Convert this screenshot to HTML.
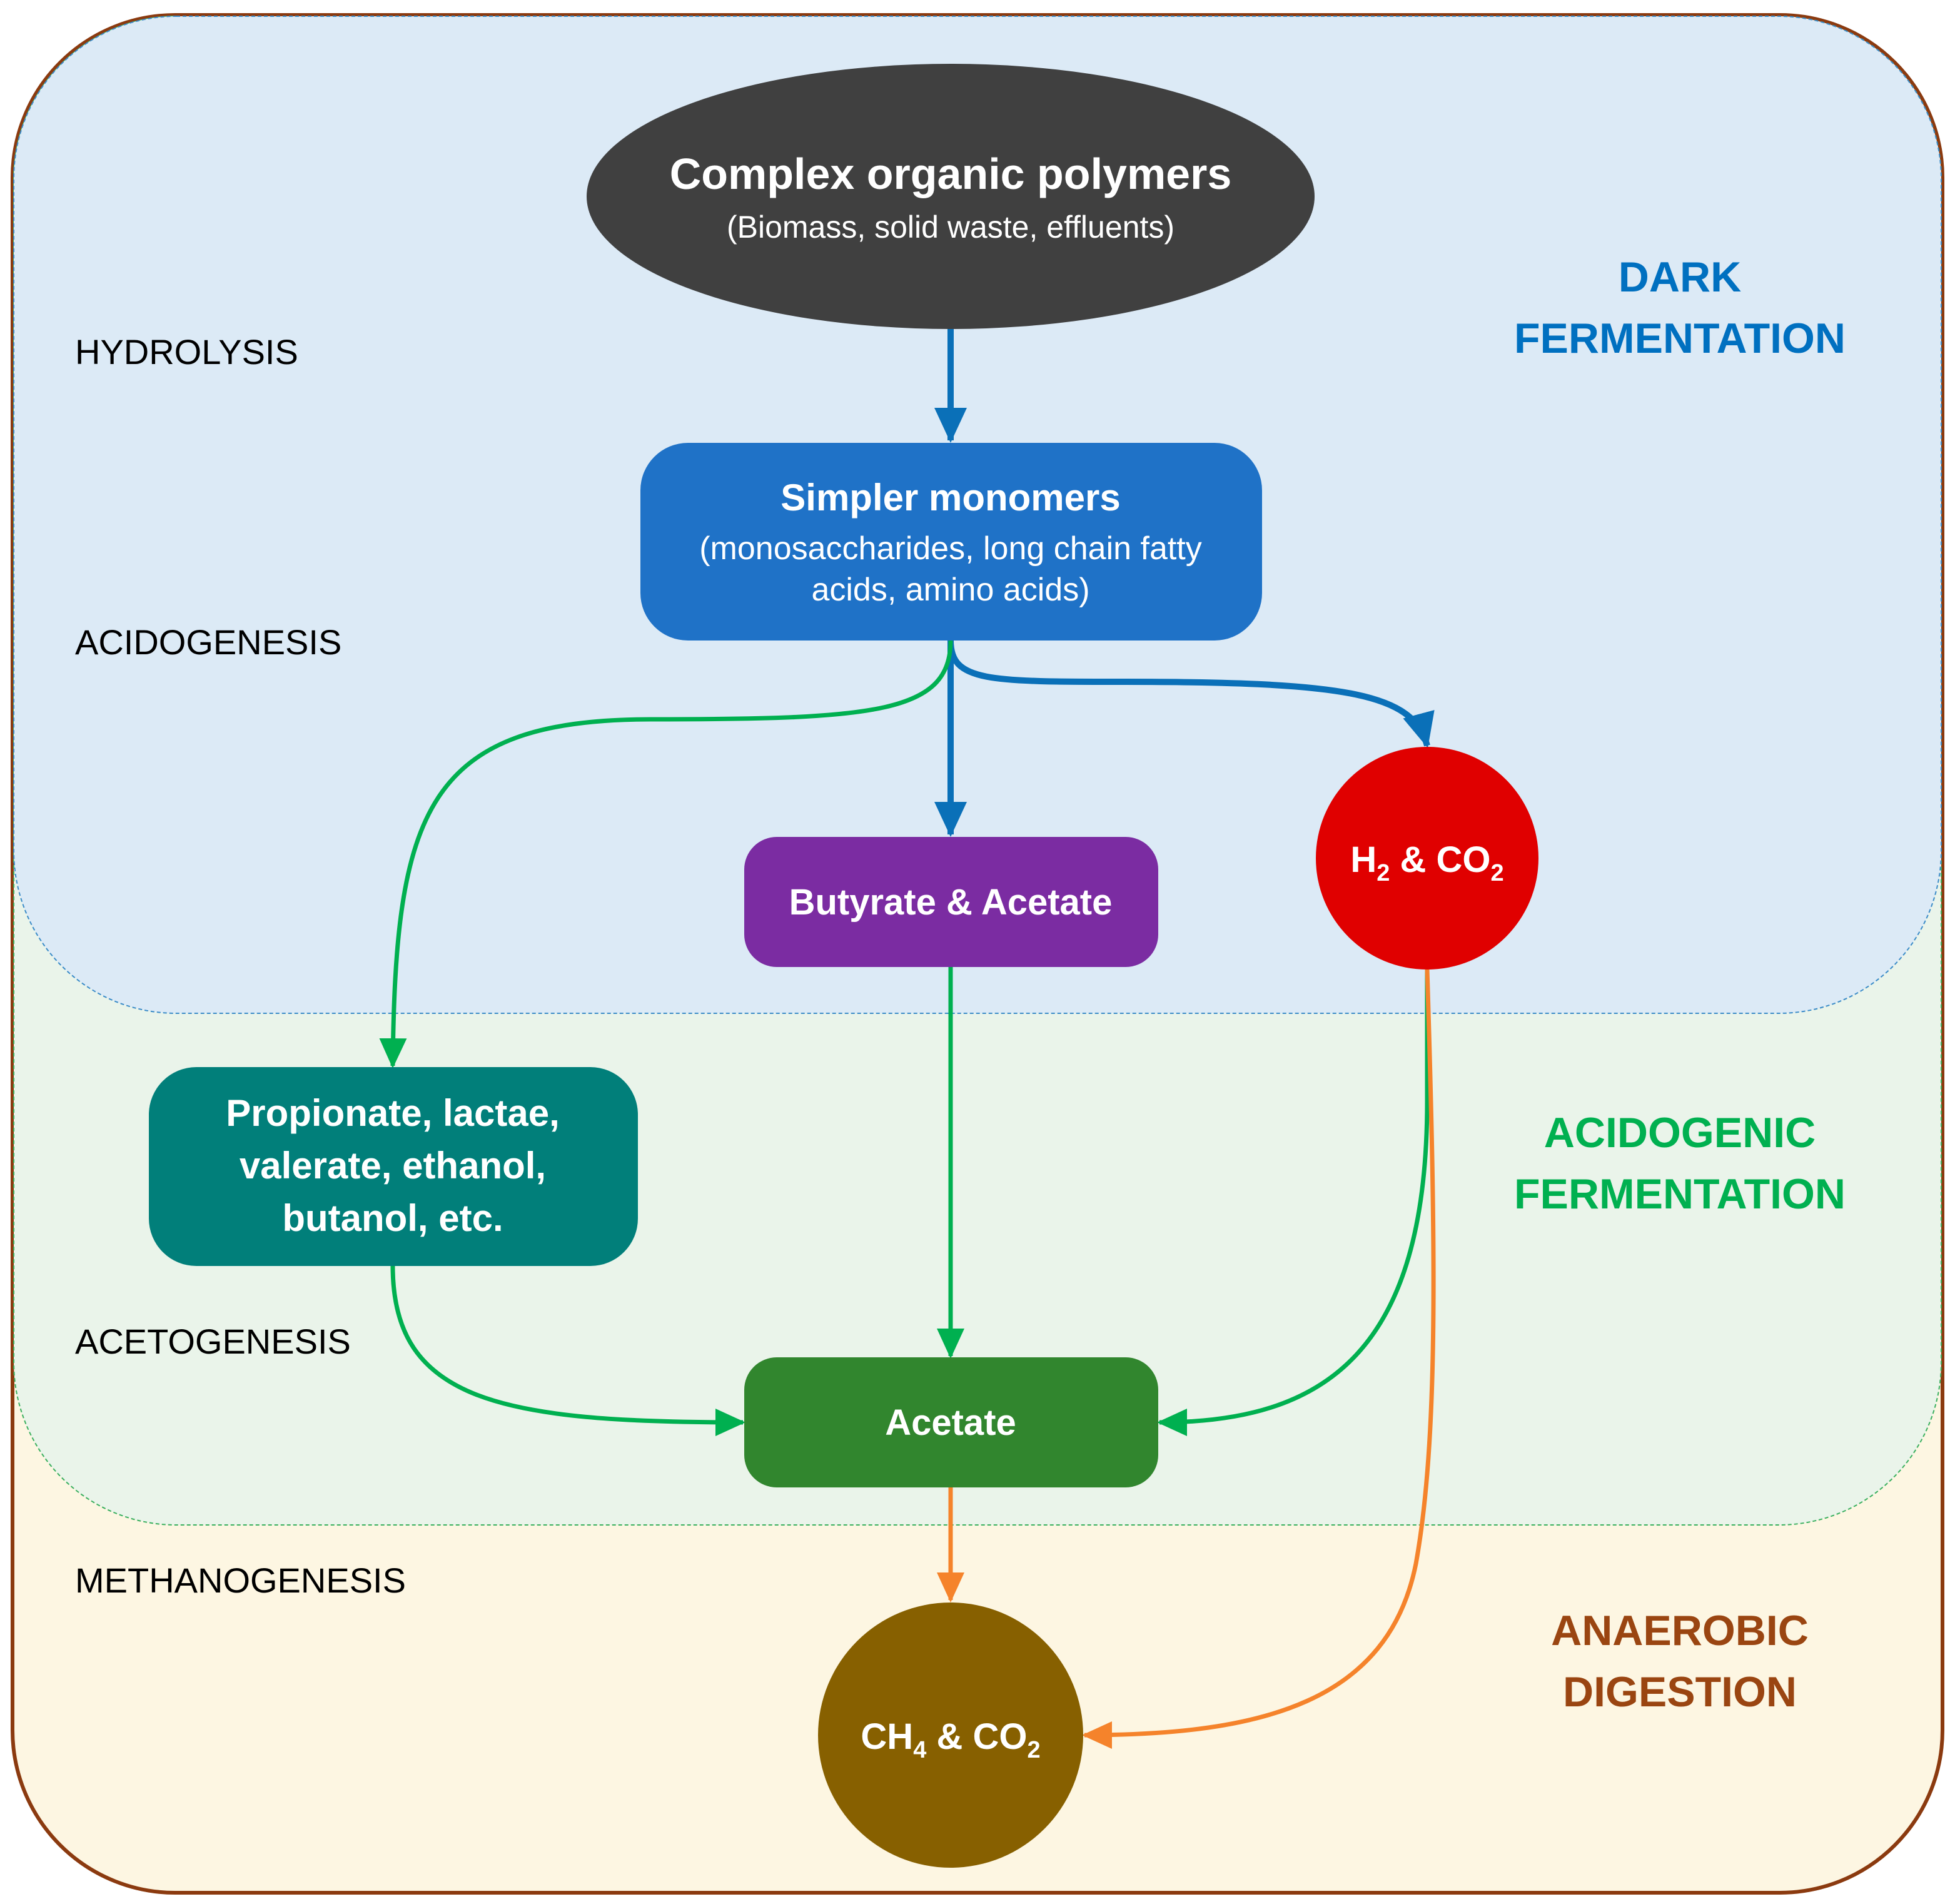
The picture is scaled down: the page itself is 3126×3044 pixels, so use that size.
<!DOCTYPE html>
<html><head><meta charset="utf-8"><style>
html,body{margin:0;padding:0;background:#fff}
svg{display:block}
text{font-family:"Liberation Sans",sans-serif}
.b{font-weight:bold}
</style></head><body>
<svg width="3126" height="3044" viewBox="0 0 1563 1522" xmlns="http://www.w3.org/2000/svg">
<defs>
<marker id="ab" markerUnits="userSpaceOnUse" markerWidth="30" markerHeight="30" refX="26" refY="13" orient="auto"><path d="M0,0 L28,13 L0,26 Z" fill="#0A70B8"/></marker>
<marker id="ag" markerUnits="userSpaceOnUse" markerWidth="26" markerHeight="26" refX="22" refY="11" orient="auto"><path d="M0,0 L24,11 L0,22 Z" fill="#00B050"/></marker>
<marker id="ao" markerUnits="userSpaceOnUse" markerWidth="26" markerHeight="26" refX="22" refY="11" orient="auto"><path d="M0,0 L24,11 L0,22 Z" fill="#F5832B"/></marker>
</defs>
<rect x="10" y="12" width="1543" height="1501" rx="130" fill="#FDF6E2" stroke="#8B3A0F" stroke-width="3"/>
<rect x="11" y="13" width="1541" height="1206" rx="130" fill="#EAF4EA" stroke="#3CB060" stroke-width="1" stroke-dasharray="3,2"/>
<rect x="11" y="13" width="1541" height="797" rx="130" fill="#DCEAF6" stroke="#3C8CC8" stroke-width="1" stroke-dasharray="3,2"/>

<text x="60" y="291" font-size="28">HYDROLYSIS</text>
<text x="60" y="523" font-size="28">ACIDOGENESIS</text>
<text x="60" y="1082" font-size="28">ACETOGENESIS</text>
<text x="60" y="1273" font-size="28">METHANOGENESIS</text>

<g class="b" font-size="34" text-anchor="middle">
<text x="1343" y="233" fill="#0070C0">DARK</text>
<text x="1343" y="282" fill="#0070C0">FERMENTATION</text>
<text x="1343" y="917" fill="#00B050">ACIDOGENIC</text>
<text x="1343" y="966" fill="#00B050">FERMENTATION</text>
<text x="1343" y="1315" fill="#9A4511">ANAEROBIC</text>
<text x="1343" y="1364" fill="#9A4511">DIGESTION</text>
</g>

<!-- connectors -->
<g fill="none">
<path d="M760,262 L760,352" stroke="#0A70B8" stroke-width="5" marker-end="url(#ab)"/>
<path d="M760,512 L760,667" stroke="#0A70B8" stroke-width="5" marker-end="url(#ab)"/>
<path d="M760,512 C760,545 790,545 900,545 C1080,545 1130,555 1141,596" stroke="#0A70B8" stroke-width="5" marker-end="url(#ab)"/>
<path d="M760,512 C760,570 700,575 520,575 C340,575 316,650 314,852" stroke="#00B050" stroke-width="3.5" marker-end="url(#ag)"/>
<path d="M760,773 L760,1084" stroke="#00B050" stroke-width="3.5" marker-end="url(#ag)"/>
<path d="M314,1012 C314,1120 400,1137 594,1137" stroke="#00B050" stroke-width="3.5" marker-end="url(#ag)"/>
<path d="M1141,775 L1141,880 C1141,1080 1060,1137 927,1137" stroke="#00B050" stroke-width="3.5" marker-end="url(#ag)"/>
<path d="M760,1189 L760,1279" stroke="#F5832B" stroke-width="3.5" marker-end="url(#ao)"/>
<path d="M1141,775 C1148,1000 1150,1150 1132,1250 C1110,1360 1010,1387 867,1387" stroke="#F5832B" stroke-width="3.5" marker-end="url(#ao)"/>
</g>

<ellipse cx="760" cy="157" rx="291" ry="106" fill="#404040"/>
<text x="760" y="151" font-size="35" fill="#fff" class="b" text-anchor="middle">Complex organic polymers</text>
<text x="760" y="190" font-size="25" fill="#fff" text-anchor="middle">(Biomass, solid waste, effluents)</text>

<rect x="512" y="354" width="497" height="158" rx="38" fill="#1F72C7"/>
<text x="760" y="408" font-size="30" fill="#fff" class="b" text-anchor="middle">Simpler monomers</text>
<text x="760" y="447" font-size="26" fill="#fff" text-anchor="middle">(monosaccharides, long chain fatty</text>
<text x="760" y="480" font-size="26" fill="#fff" text-anchor="middle">acids, amino acids)</text>

<rect x="595" y="669" width="331" height="104" rx="26" fill="#7B2CA2"/>
<text x="760" y="731" font-size="29" fill="#fff" class="b" text-anchor="middle">Butyrate &amp; Acetate</text>

<circle cx="1141" cy="686" r="89" fill="#E00000"/>
<text x="1141" y="697" font-size="29" fill="#fff" class="b" text-anchor="middle">H<tspan font-size="19" dy="7">2</tspan><tspan dy="-7"> &amp; CO</tspan><tspan font-size="19" dy="7">2</tspan></text>

<rect x="119" y="853" width="391" height="159" rx="38" fill="#017F7A"/>
<text x="314" y="900" font-size="30" fill="#fff" class="b" text-anchor="middle">Propionate, lactae,</text>
<text x="314" y="942" font-size="30" fill="#fff" class="b" text-anchor="middle">valerate, ethanol,</text>
<text x="314" y="984" font-size="30" fill="#fff" class="b" text-anchor="middle">butanol, etc.</text>

<rect x="595" y="1085" width="331" height="104" rx="26" fill="#31862E"/>
<text x="760" y="1147" font-size="29" fill="#fff" class="b" text-anchor="middle">Acetate</text>

<circle cx="760" cy="1387" r="106" fill="#876000"/>
<text x="760" y="1398" font-size="29" fill="#fff" class="b" text-anchor="middle">CH<tspan font-size="19" dy="7">4</tspan><tspan dy="-7"> &amp; CO</tspan><tspan font-size="19" dy="7">2</tspan></text>
</svg>
</body></html>
